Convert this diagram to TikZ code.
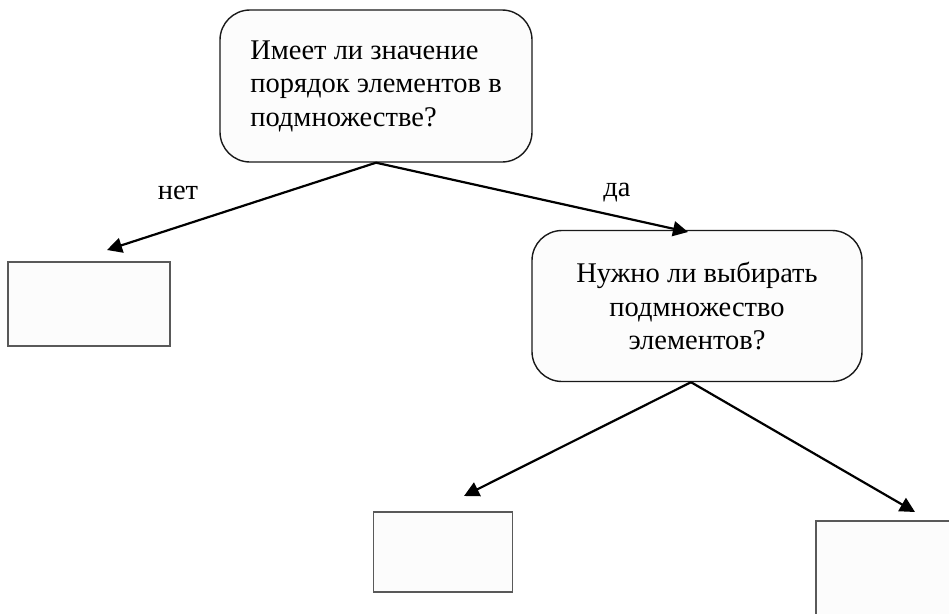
\documentclass[tikz,border=0pt]{standalone}
\usepackage{fontspec}
\setmainfont{Liberation Serif}
\usetikzlibrary{arrows.meta}

\tikzset{
  question/.style={shape=rectangle,rounded corners=30pt,draw=black!90,line width=1.4pt,
    fill=white!99!black,inner sep=0pt,font=\fontsize{28.5}{33.5}\selectfont},
  answer/.style={shape=rectangle,draw=black!65,line width=1.8pt,fill=white!99!black,inner sep=0pt},
  arrow/.style={line width=2.2pt,-{Triangle[length=15pt,width=15pt]}},
  label/.style={font=\fontsize{28.5}{33}\selectfont}
}

\begin{document}
\begin{tikzpicture}[x=1pt,y=-1pt]
\useasboundingbox (0,0) rectangle (949,613);

\node[question,minimum width=312pt,minimum height=152pt,align=left] (q1) at (376,86)
  {Имеет ли значение\\порядок элементов в\\подмножестве?};
\node[question,minimum width=330pt,minimum height=151pt,align=center] (q2) at (697,306)
  {Нужно ли выбирать\\подмножество\\элементов?};

\node[answer,minimum width=162pt,minimum height=84pt] (a1) at (89,304) {};
\node[answer,minimum width=139pt,minimum height=80pt] (a2) at (443,552) {};
\node[answer,minimum width=145pt,minimum height=105pt,anchor=north west] (a3) at (815,520) {};

\coordinate (t1) at (107,250);
\coordinate (t2) at (688,232);
\coordinate (t3) at (464,496);
\coordinate (t4) at (915,512);

\node[label] (no) at (178,193) {нет};
\node[label] (yes) at (617,193) {да};

\draw[arrow] (q1.south) -- (t1);
\draw[arrow] (q1.south) -- (t2);
\draw[arrow] ([xshift=-6pt]q2.south) -- (t3);
\draw[arrow] ([xshift=-6pt]q2.south) -- (t4);
\end{tikzpicture}
\end{document}
